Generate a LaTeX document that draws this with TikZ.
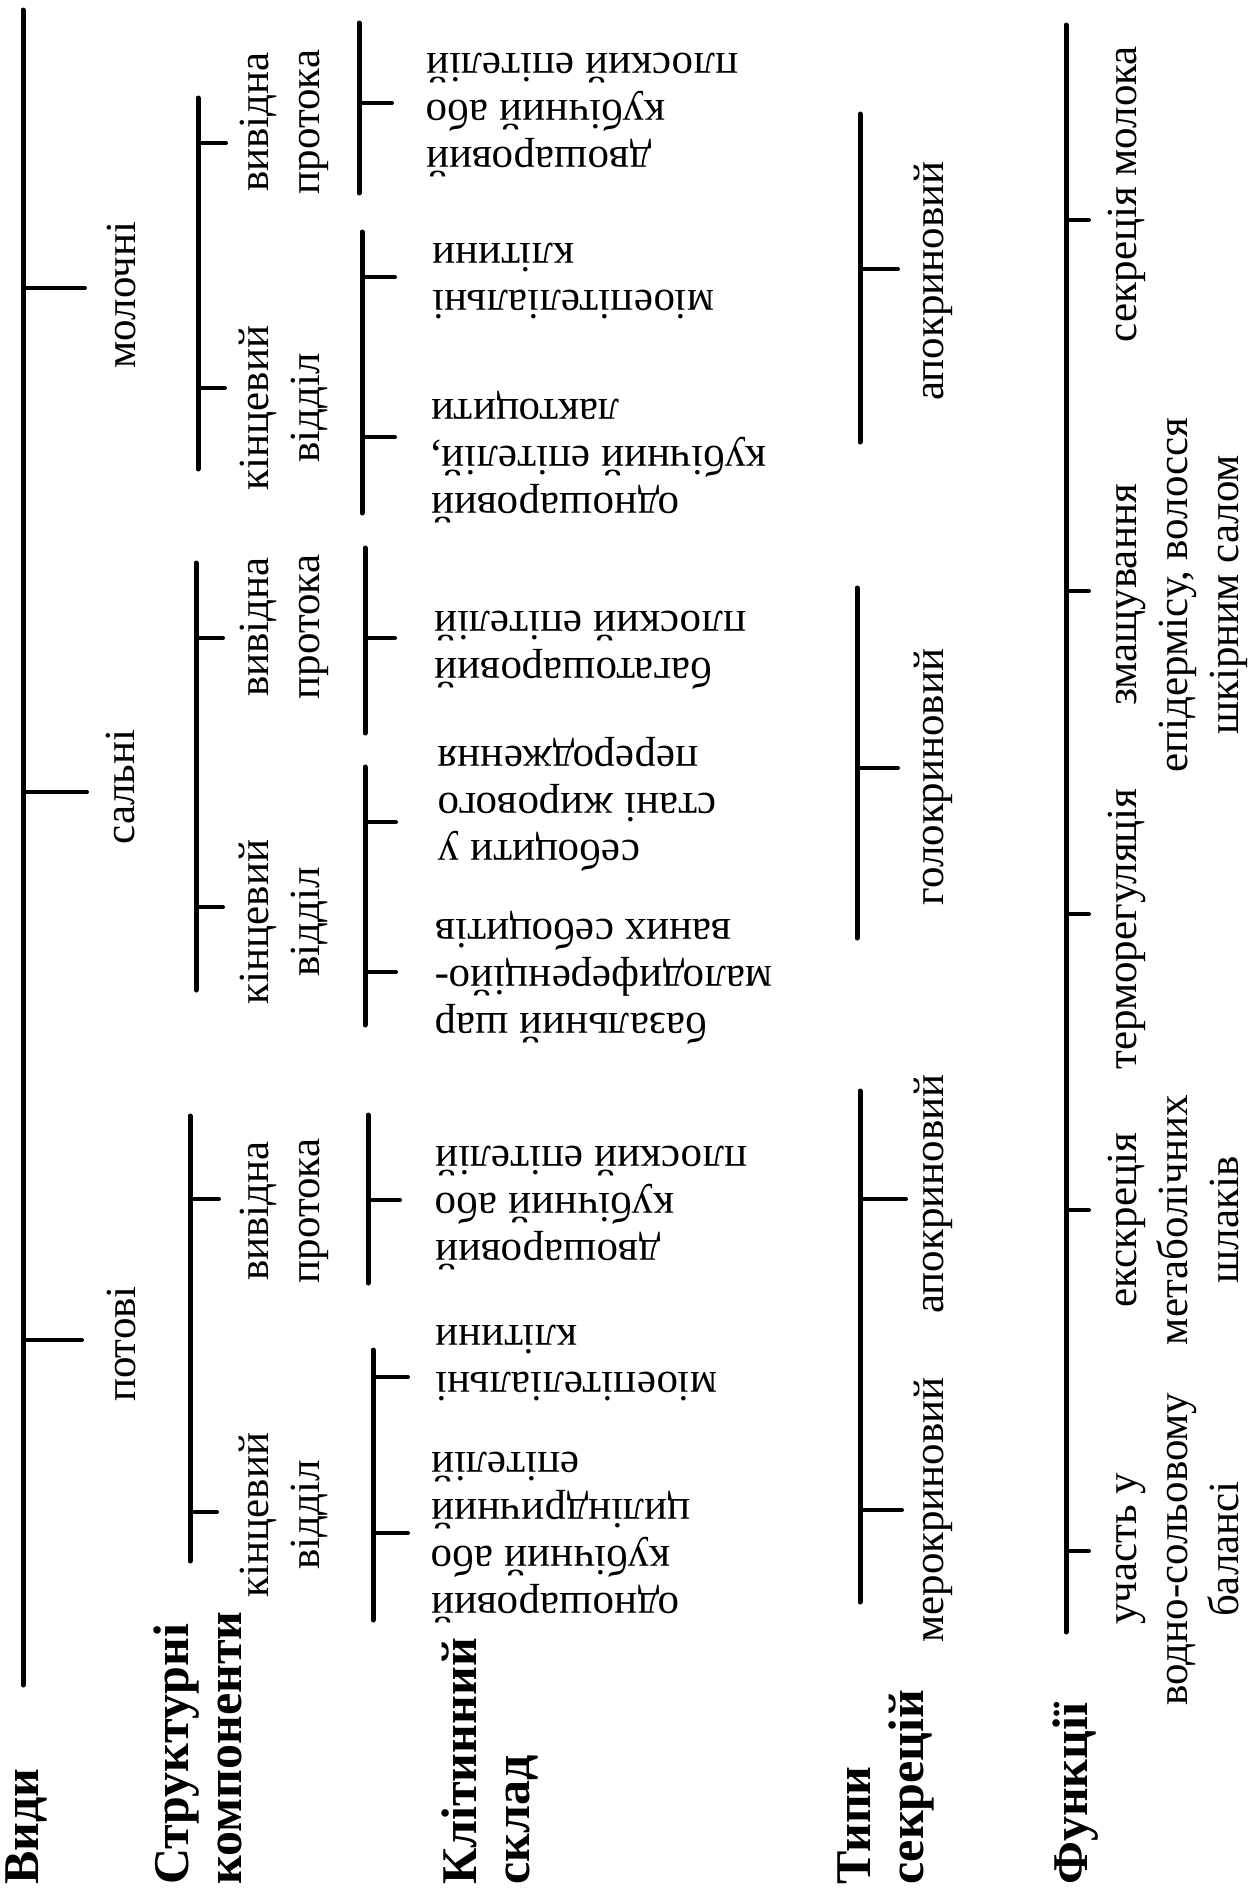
\documentclass[tikz,border=0pt]{standalone}
\usepackage{fontspec}
\setmainfont{Liberation Serif}
% stacked lines whose baseline is the first line
\newcommand{\stackc}[1]{\begin{tabular}[t]{@{}c@{}}#1\end{tabular}}
\newcommand{\stackr}[1]{\begin{tabular}[t]{@{}r@{}}#1\end{tabular}}
\newcommand{\stackl}[1]{\begin{tabular}[t]{@{}l@{}}#1\end{tabular}}
\begin{document}
\begin{tikzpicture}[x=1pt,y=-1pt,
  stem/.style={line width=5pt, line cap=round},
  twig/.style={line width=4pt, line cap=round},
  lbl/.style={inner sep=0pt, anchor=base, rotate=90, font=\fontsize{43}{51}\selectfont},
  cell/.style={inner sep=0pt, anchor=base east, rotate=180, font=\fontsize{43}{47}\selectfont},
  head/.style={inner sep=0pt, anchor=base west, rotate=90, font=\fontsize{50}{53}\selectfont\bfseries},
]
\useasboundingbox (0,0) rectangle (1248,1899);

% ---------- column headings ----------
\node[head] (hKinds) at (38,1885) {Види};
\node[head] (hParts) at (188,1885) {\stackl{Структурні\\компоненти}};
\node[head] (hCells) at (476,1885) {\stackl{Клітинний\\склад}};
\node[head] (hTypes) at (870,1885) {\stackl{Типи\\секрецій}};
\node[head] (hFunc)  at (1087,1885) {Функції};

% ---------- kinds of glands ----------
\coordinate (kTop) at (23,10);
\coordinate (kBot) at (23,1685);
\draw[stem] (kTop) -- (kBot);
\coordinate (kMilk) at (23,288);  \coordinate (kMilkE) at (85,288);
\coordinate (kSeb)  at (23,792);  \coordinate (kSebE)  at (87,792);
\coordinate (kSw)   at (23,1340); \coordinate (kSwE)   at (82,1340);
\draw[twig] (kMilk) -- (kMilkE);
\draw[twig] (kSeb) -- (kSebE);
\draw[twig] (kSw) -- (kSwE);
\node[lbl] (milk)  at (135,295)  {молочні};
\node[lbl] (seb)   at (134,787)  {сальні};
\node[lbl] (sweat) at (135,1344) {потові};

% ---------- structural components ----------
\coordinate (pMT) at (198,98);   \coordinate (pMB) at (198,469);
\coordinate (pST) at (196,563);  \coordinate (pSB) at (196,990);
\coordinate (pWT) at (190,1116); \coordinate (pWB) at (190,1561);
\draw[stem] (pMT) -- (pMB);
\draw[stem] (pST) -- (pSB);
\draw[stem] (pWT) -- (pWB);
\coordinate (pM1) at (198,143);  \coordinate (pM1e) at (226,143);
\coordinate (pM2) at (198,388);  \coordinate (pM2e) at (225,388);
\coordinate (pS1) at (196,638);  \coordinate (pS1e) at (223,638);
\coordinate (pS2) at (196,907);  \coordinate (pS2e) at (223,907);
\coordinate (pW1) at (190,1199); \coordinate (pW1e) at (219,1199);
\coordinate (pW2) at (190,1512); \coordinate (pW2e) at (217,1512);
\foreach \a in {pM1,pM2,pS1,pS2,pW1,pW2} \draw[twig] (\a) -- (\a e);
\node[lbl] (mDuct) at (268,122)  {\stackc{вивідна\\протока}};
\node[lbl] (mEnd)  at (268,408)  {\stackc{кінцевий\\відділ}};
\node[lbl] (sDuct) at (268,627)  {\stackc{вивідна\\протока}};
\node[lbl] (sEnd)  at (268,922)  {\stackc{кінцевий\\відділ}};
\node[lbl] (wDuct) at (268,1211) {\stackc{вивідна\\протока}};
\node[lbl] (wEnd)  at (268,1515) {\stackc{кінцевий\\відділ}};

% ---------- cell composition ----------
\coordinate (c1T) at (359,23);   \coordinate (c1B) at (359,193);
\coordinate (c2T) at (362,232);  \coordinate (c2B) at (362,513);
\coordinate (c3T) at (365,548);  \coordinate (c3B) at (365,733);
\coordinate (c4T) at (365,767);  \coordinate (c4B) at (365,1025);
\coordinate (c5T) at (368,1115); \coordinate (c5B) at (368,1283);
\coordinate (c6T) at (373,1350); \coordinate (c6B) at (373,1620);
\foreach \a in {c1,c2,c3,c4,c5,c6} \draw[stem] (\a T) -- (\a B);
\coordinate (c1a) at (359,103);  \coordinate (c1ae) at (392,103);
\coordinate (c2a) at (362,277);  \coordinate (c2ae) at (395,277);
\coordinate (c2b) at (362,437);  \coordinate (c2be) at (395,437);
\coordinate (c3a) at (365,638);  \coordinate (c3ae) at (395,638);
\coordinate (c4a) at (365,822);  \coordinate (c4ae) at (396,822);
\coordinate (c4b) at (365,972);  \coordinate (c4be) at (396,972);
\coordinate (c5a) at (368,1200); \coordinate (c5ae) at (400,1200);
\coordinate (c6a) at (373,1377); \coordinate (c6ae) at (408,1377);
\coordinate (c6b) at (373,1533); \coordinate (c6be) at (408,1533);
\foreach \a in {c1a,c2a,c2b,c3a,c4a,c4b,c5a,c6a,c6b} \draw[twig] (\a) -- (\a e);
\node[cell] (mDuctC) at (426,147)  {\stackr{двошаровий\\кубічний або\\плоский епітелій}};
\node[cell] (mMyo)   at (432,290)  {\stackr{міоепітеліальні\\клітини}};
\node[cell] (mLact)  at (431,493)  {\stackr{одношаровий\\кубічний епітелій,\\лактоцити}};
\node[cell] (sDuctC) at (434,658)  {\stackr{багатошаровий\\плоский епітелій}};
\node[cell] (sSebo)  at (438,840)  {\stackr{себоцити у\\стані жирового\\переродження}};
\node[cell] (sBasal) at (435,1013) {\stackr{базальний шар\\малодиференційо-\\ваних себоцитів}};
\node[cell] (wDuctC) at (435,1240) {\stackr{двошаровий\\кубічний або\\плоский епітелій}};
\node[cell] (wMyo)   at (435,1372) {\stackr{міоепітеліальні\\клітини}};
\node[cell] (wSec)   at (431,1593) {\stackr{одношаровий\\кубічний або\\циліндричний\\епітелій}};

% ---------- types of secretion ----------
\coordinate (tMT) at (860,114);  \coordinate (tMB) at (860,442);
\coordinate (tST) at (857,588);  \coordinate (tSB) at (857,938);
\coordinate (tWT) at (860,1091); \coordinate (tWB) at (860,1602);
\draw[stem] (tMT) -- (tMB);
\draw[stem] (tST) -- (tSB);
\draw[stem] (tWT) -- (tWB);
\coordinate (tM1) at (860,269);  \coordinate (tM1e) at (898,269);
\coordinate (tS1) at (857,768);  \coordinate (tS1e) at (898,768);
\coordinate (tW1) at (860,1199); \coordinate (tW1e) at (906,1199);
\coordinate (tW2) at (860,1510); \coordinate (tW2e) at (902,1510);
\foreach \a in {tM1,tS1,tW1,tW2} \draw[twig] (\a) -- (\a e);
\node[lbl] (mApo)  at (943,281)  {апокриновий};
\node[lbl] (sHolo) at (943,777)  {голокриновий};
\node[lbl] (wApo)  at (943,1194) {апокриновий};
\node[lbl] (wMero) at (943,1510) {мерокриновий};

% ---------- functions ----------
\coordinate (fT) at (1066,25); \coordinate (fB) at (1066,1632);
\draw[stem] (fT) -- (fB);
\coordinate (f1) at (1066,220);  \coordinate (f1e) at (1089,220);
\coordinate (f2) at (1066,591);  \coordinate (f2e) at (1089,591);
\coordinate (f3) at (1066,914);  \coordinate (f3e) at (1089,914);
\coordinate (f4) at (1066,1210); \coordinate (f4e) at (1089,1210);
\coordinate (f5) at (1066,1551); \coordinate (f5e) at (1089,1551);
\foreach \a in {f1,f2,f3,f4,f5} \draw[twig] (\a) -- (\a e);
\node[lbl] (fMilk)  at (1136,194)  {секреція молока};
\node[lbl] (fLub)   at (1136,595)  {\stackc{змащування\\епідермісу, волосся\\шкірним салом}};
\node[lbl] (fTherm) at (1136,929)  {терморегуляція};
\node[lbl] (fExcr)  at (1136,1220) {\stackc{екскреція\\метаболічних\\шлаків}};
\node[lbl] (fWater) at (1136,1549) {\stackc{участь у\\водно-сольовому\\балансі}};
\end{tikzpicture}
\end{document}
